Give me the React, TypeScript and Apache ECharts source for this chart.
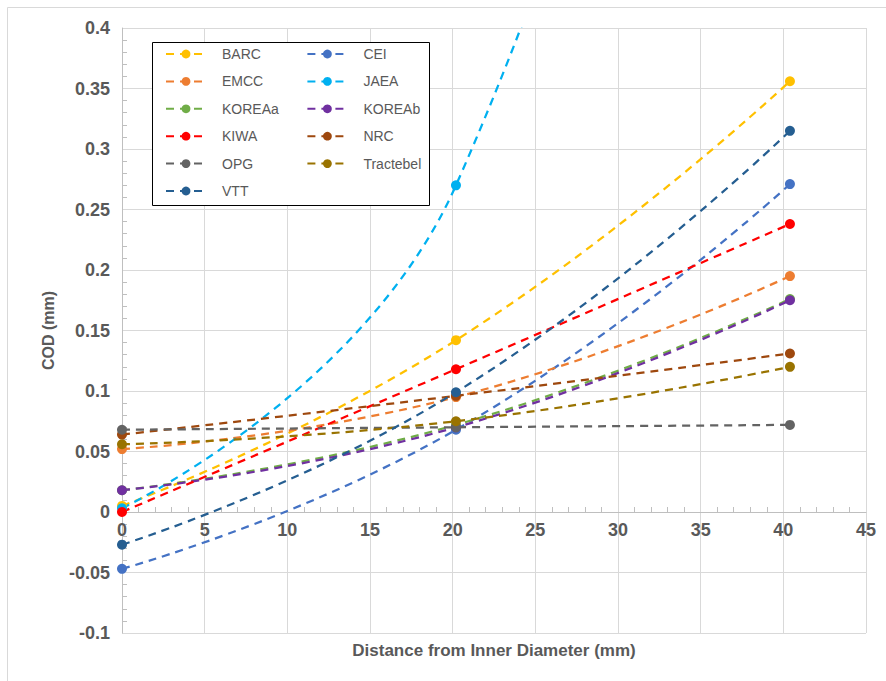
import React, { useEffect, useRef } from "react";
import * as echarts from "echarts";

const xPositions = [0, 20.2, 40.4];
const seriesNames = [
  "BARC", "CEI", "EMCC", "JAEA", "KOREAa", "KOREAb",
  "KIWA", "NRC", "OPG", "Tractebel", "VTT",
];
const seriesColors = [
  "#FFC000", "#4472C4", "#ED7D31", "#00B0F0", "#70AD47", "#7030A0",
  "#FF0000", "#9E480E", "#636363", "#997300", "#255E91",
];
const BARC = [0.005, 0.142, 0.356];
const CEI = [-0.047, 0.068, 0.271];
const EMCC = [0.052, 0.095, 0.195];
const JAEA = [0.003, 0.27, 1.25];
const KOREAa = [0.018, 0.072, 0.176];
const KOREAb = [0.018, 0.070, 0.175];
const KIWA = [0.0, 0.118, 0.238];
const NRC = [0.064, 0.096, 0.131];
const OPG = [0.068, 0.070, 0.072];
const Tractebel = [0.056, 0.075, 0.120];
const VTT = [-0.027, 0.099, 0.315];
const seriesValues = [BARC, CEI, EMCC, JAEA, KOREAa, KOREAb, KIWA, NRC, OPG, Tractebel, VTT];

const FONT = "Liberation Sans, Arial, sans-serif";
const GREY = "#595959";

const GRID_TOP = 28;
const GRID_BOTTOM = 48;
const H = 681;
const Y_MIN = -0.1;
const Y_MAX = 0.4;

export default function App() {
  const ref = useRef<HTMLDivElement>(null);
  useEffect(() => {
    if (!ref.current) return;
    const chart = echarts.init(ref.current, undefined, { renderer: "svg" });
    const gridH = H - GRID_TOP - GRID_BOTTOM;
    // distance from grid bottom to the y = 0 line
    const zeroOffset = (gridH * (0 - Y_MIN)) / (Y_MAX - Y_MIN);
    chart.setOption({
      animation: false,
      backgroundColor: "#ffffff",
      grid: {
        left: 122, right: 20, top: GRID_TOP, bottom: GRID_BOTTOM,
        containLabel: false, outerBoundsMode: "none",
      },
      xAxis: {
        type: "value",
        position: "bottom",
        offset: -zeroOffset,
        min: 0,
        max: 45,
        interval: 5,
        name: "Distance from Inner Diameter (mm)",
        nameLocation: "middle",
        nameGap: 130,
        nameTextStyle: { fontFamily: FONT, fontWeight: "bold", fontSize: 17, color: GREY },
        axisLine: { onZero: false, lineStyle: { color: "#bfbfbf", width: 1 } },
        axisTick: { show: false, inside: true },
        minorTick: { show: true, splitNumber: 5, length: 5, lineStyle: { color: "#bfbfbf" } },
        axisLabel: { fontFamily: FONT, fontWeight: "bold", fontSize: 18, color: GREY, margin: 9 },
        splitLine: { show: true, lineStyle: { color: "#d9d9d9" } },
      },
      yAxis: {
        type: "value",
        min: Y_MIN,
        max: Y_MAX,
        interval: 0.05,
        name: "COD (mm)",
        nameLocation: "middle",
        nameGap: 66,
        nameRotate: 90,
        nameTextStyle: { fontFamily: FONT, fontWeight: "bold", fontSize: 16, color: GREY },
        axisLine: { show: true, onZero: false, lineStyle: { color: "#bfbfbf", width: 1 } },
        axisTick: { show: false, inside: true },
        minorTick: { show: true, splitNumber: 5, length: 5, lineStyle: { color: "#bfbfbf" } },
        axisLabel: {
          fontFamily: FONT, fontWeight: "bold", fontSize: 18, color: GREY, margin: 12,
          formatter: (v: number) => String(Math.round(v * 100) / 100),
        },
        splitLine: { show: true, lineStyle: { color: "#d9d9d9" } },
      },
      legend: {
        left: 165,
        top: 44,
        width: 280,
        orient: "horizontal",
        padding: 0,
        itemWidth: 40,
        itemHeight: 11,
        itemGap: 7.4,
        textStyle: {
          fontFamily: FONT, fontSize: 14, color: GREY, width: 77, lineHeight: 20,
          padding: [0, 0, 0, 11],
        },
        data: seriesNames,
      },
      graphic: [
        {
          type: "polyline",
          z: 0,
          shape: { points: [[7.5, 681], [7.5, 7.5], [886, 7.5]] },
          style: { fill: "none", stroke: "#d9d9d9", lineWidth: 1 },
        },
        {
          type: "rect",
          z: 3,
          shape: { x: 152.5, y: 42.5, width: 277, height: 163 },
          style: { fill: "#ffffff", stroke: "#000000", lineWidth: 1 },
        },
      ],
      series: seriesNames.map((name, i) => ({
        name,
        type: "line",
        smooth: 0.5,
        symbol: "circle",
        symbolSize: 10,
        clip: true,
        color: seriesColors[i],
        lineStyle: { color: seriesColors[i], width: 2.25, type: [8, 6] },
        itemStyle: { color: seriesColors[i] },
        data: xPositions.map((x, j) => [x, seriesValues[i][j]]),
      })),
    });
    return () => chart.dispose();
  }, []);
  return (
    <div
      ref={ref}
      style={{ position: "fixed", left: 0, top: 0, width: 886, height: 681 }}
    />
  );
}
